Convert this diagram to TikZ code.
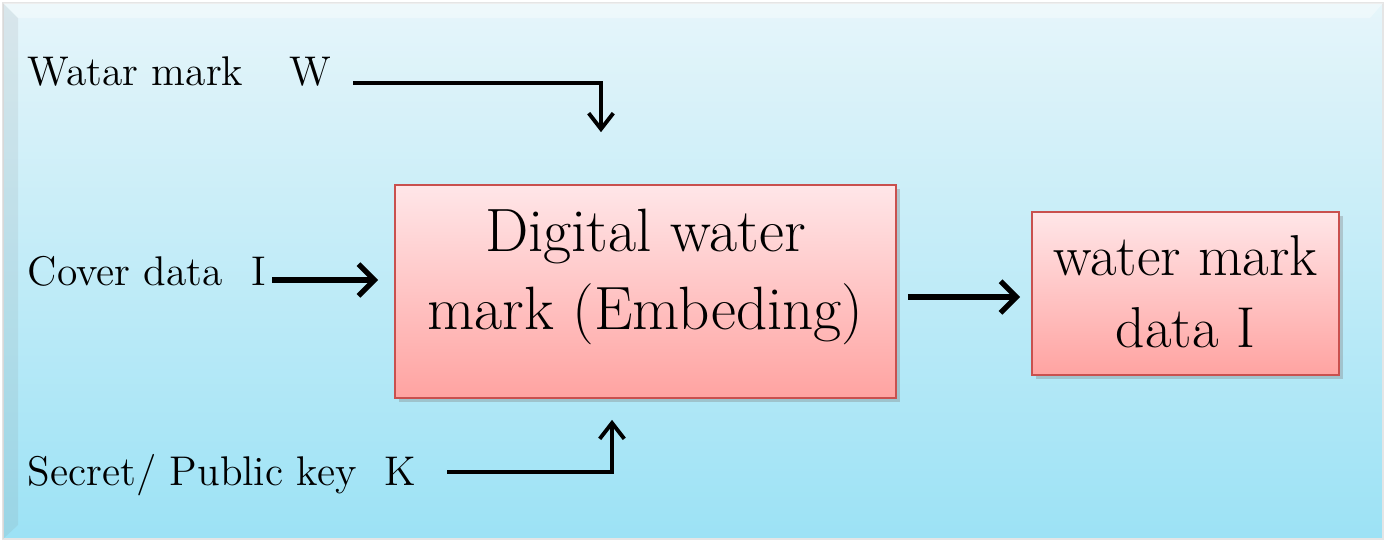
\documentclass[tikz,border=0pt]{standalone}
\usepackage{fontspec}
\usetikzlibrary{arrows.meta,shadows,calc}
\definecolor{bgtop}{HTML}{E6F5FA}
\definecolor{bgbot}{HTML}{9CE2F5}
\definecolor{boxtop}{HTML}{FFE6E8}
\definecolor{boxbot}{HTML}{FFA3A1}
\definecolor{boxline}{HTML}{C9504E}
\tikzset{
  lab/.style={anchor=base west,inner sep=0pt,font=\fontsize{11.8}{13}\selectfont},
  pinkbox/.style={draw=boxline,line width=0.45pt,top color=boxtop,bottom color=boxbot,
    drop shadow={shadow xshift=1.2pt,shadow yshift=-1.2pt,opacity=0.35},inner sep=0pt},
  boxtext/.style={align=center,inner sep=0pt},
  thinarr/.style={line width=1.1pt,-{Straight Barb[length=4.5pt,width=7pt,line width=1.1pt]}},
  thickarr/.style={line width=1.5pt,-{Straight Barb[length=4.5pt,width=9pt,line width=1.5pt]}}
}
\begin{document}
\begin{tikzpicture}[x=0.01cm,y=-0.01cm]
\useasboundingbox (0,0) rectangle (1387,542);
\shade[top color=bgtop,bottom color=bgbot] (3,3) rectangle (1383,539);
\draw[white!80!gray,line width=0.6pt] (3,3) rectangle (1383,539);
\fill[white,opacity=0.35] (3,3) -- (1383,3) -- (1370,18) -- (18,18) -- cycle;
\fill[gray,opacity=0.12] (3,3) -- (18,18) -- (18,525) -- (3,539) -- cycle;
% labels
\node[lab] (wl) at (27,85) {Watar mark\hspace{13pt}W};
\node[lab] (cl) at (27,285) {Cover data\hspace{8pt}I};
\node[lab] (sl) at (27,485) {Secret/ Public key\hspace{8pt}K};
% boxes
\node[pinkbox,minimum width=5.01cm,minimum height=2.13cm] (main) at (645.5,291.5) {};
\node[boxtext,font=\fontsize{17.4}{22.2}\selectfont] (maintxt) at (645.5,277) {Digital water\\mark (Embeding)};
\node[pinkbox,minimum width=3.07cm,minimum height=1.63cm] (out) at (1185.5,293.5) {};
\node[boxtext,font=\fontsize{16.4}{20.5}\selectfont] (outtxt) at (1185.5,292) {water mark\\data I};
% connector start points
\coordinate (ws) at (353,83);
\coordinate (cs) at (272,280);
\coordinate (ss) at (447,472);
\draw[thinarr] (ws) -| ([shift={(-44.5,-52)}]main.north);
\draw[thickarr] (cs) -- ([shift={(-16,-11.5)}]main.west);
\draw[thinarr] (ss) -| ([shift={(-33.5,21)}]main.south);
\draw[thickarr] ([shift={(11,5.5)}]main.east) -- ([shift={(-11,3.5)}]out.west);
\end{tikzpicture}
\end{document}
